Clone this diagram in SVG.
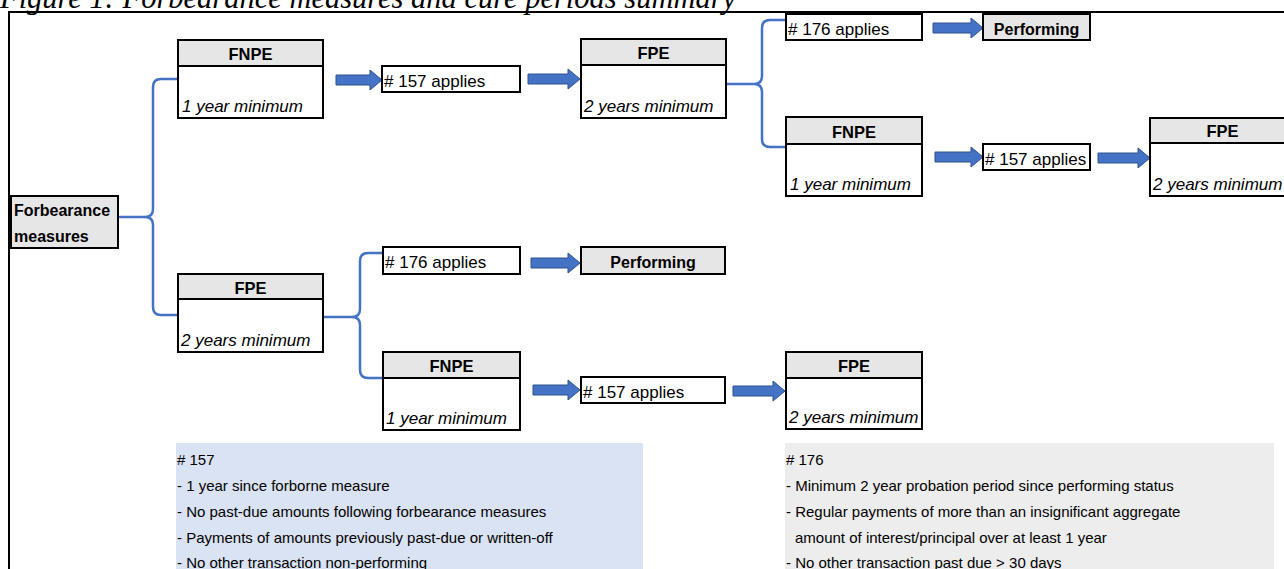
<svg xmlns="http://www.w3.org/2000/svg" width="1284" height="569" viewBox="0 0 1284 569">
  <style>
    .frame { fill: none; stroke: #000; stroke-width: 2; }
    .box { fill: #fff; stroke: #000; stroke-width: 2; }
    .head { fill: #e7e6e6; stroke: #000; stroke-width: 2; }
    .grey { fill: #e7e6e6; stroke: #000; stroke-width: 2; }
    .t { font-family: "Liberation Sans", Arial, sans-serif; font-size: 17px; fill: #000; }
    .b { font-family: "Liberation Sans", Arial, sans-serif; font-size: 16px; font-weight: bold; fill: #000; }
    .hd { font-family: "Liberation Sans", Arial, sans-serif; font-size: 16.5px; font-weight: bold; fill: #000; text-anchor: middle; }
    .it { font-family: "Liberation Sans", Arial, sans-serif; font-size: 17px; font-style: italic; fill: #000; }
    .note { font-family: "Liberation Sans", Arial, sans-serif; font-size: 15px; fill: #000; }
    .title { font-family: "Liberation Serif", "Times New Roman", serif; font-size: 30.5px; font-style: italic; fill: #000; }
    .brace { fill: none; stroke: #4472c4; stroke-width: 2.5; stroke-linecap: round; stroke-linejoin: round; }
    .arrow { fill: #4472c4; stroke: #2f528f; stroke-width: 1; }
  </style>

  <!-- caption, partly above the top edge -->
  <text class="title" x="0" y="7.5">Figure 1: Forbearance measures and cure periods summary</text>

  <!-- outer frame (left and top edges) -->
  <path class="frame" d="M9,569 V12 H1284"/>

  <!-- rule notes -->
  <g id="note-157">
    <rect x="176" y="443" width="467" height="130" fill="#dae3f3"/>
    <text class="note" x="177" y="464.5"># 157</text>
    <text class="note" x="177" y="491">- 1 year since forborne measure</text>
    <text class="note" x="177" y="517">- No past-due amounts following forbearance measures</text>
    <text class="note" x="177" y="543">- Payments of amounts previously past-due or written-off</text>
    <text class="note" x="177" y="567.5">- No other transaction non-performing</text>
  </g>
  <g id="note-176">
    <rect x="785" y="443" width="489" height="130" fill="#ededed"/>
    <text class="note" x="786" y="464.5"># 176</text>
    <text class="note" x="786" y="491">- Minimum 2 year probation period since performing status</text>
    <text class="note" x="786" y="517">- Regular payments of more than an insignificant aggregate</text>
    <text class="note" x="795" y="543">amount of interest/principal over at least 1 year</text>
    <text class="note" x="786" y="567.5">- No other transaction past due &gt; 30 days</text>
  </g>

  <!-- connectors: braces and block arrows -->
  <g id="connectors">
    <path class="brace" d="M120,217 H145 M177,79 H161 Q153,79 153,87 V209 Q153,217 145,217 Q153,217 153,225 V307 Q153,315 161,315 H177"/>
    <path class="brace" d="M726,84 H754 M786,20 H770 Q762,20 762,28 V76 Q762,84 754,84 Q762,84 762,92 V139 Q762,147 770,147 H786"/>
    <path class="brace" d="M324,317 H352 M383,253 H368 Q360,253 360,261 V309 Q360,317 352,317 Q360,317 360,325 V370 Q360,378 368,378 H383"/>

    <path class="arrow" d="M336,75 H370 V70 L382,80 L370,90 V85 H336 Z"/>
    <path class="arrow" d="M528,74 H568 V69 L580,79 L568,89 V84 H528 Z"/>
    <path class="arrow" d="M933,23 H971 V18 L983,28 L971,38 V33 H933 Z"/>
    <path class="arrow" d="M935,152 H971 V147 L983,157 L971,167 V162 H935 Z"/>
    <path class="arrow" d="M1098,153 H1138 V148 L1150,158 L1138,168 V163 H1098 Z"/>
    <path class="arrow" d="M531,258 H568 V253 L580,263 L568,273 V268 H531 Z"/>
    <path class="arrow" d="M533,385 H568 V380 L580,390 L568,400 V395 H533 Z"/>
    <path class="arrow" d="M733,386 H773 V381 L785,391 L773,401 V396 H733 Z"/>
  </g>

  <!-- states and conditions -->
  <g id="forbearance-measures">
    <rect class="grey" x="11" y="196" width="107" height="52"/>
    <text class="b" x="14" y="216">Forbearance</text>
    <text class="b" x="14" y="242">measures</text>
  </g>

  <g id="fnpe-1">
    <rect class="box" x="178" y="40" width="145" height="78"/>
    <rect class="head" x="178" y="40" width="145" height="26"/>
    <text class="hd" x="250.5" y="60">FNPE</text>
    <text class="it" x="182" y="111.5">1 year minimum</text>
  </g>
  <g id="applies-157-1">
    <rect class="box" x="382" y="66" width="138" height="26"/>
    <text class="t" x="384" y="86.5"># 157 applies</text>
  </g>
  <g id="fpe-1">
    <rect class="box" x="581" y="39" width="145" height="79"/>
    <rect class="head" x="581" y="39" width="145" height="26"/>
    <text class="hd" x="653.5" y="59">FPE</text>
    <text class="it" x="584" y="111.5">2 years minimum</text>
  </g>
  <g id="applies-176-1">
    <rect class="box" x="786" y="14" width="136" height="26"/>
    <text class="t" x="788" y="34.5"># 176 applies</text>
  </g>
  <g id="performing-1">
    <rect class="grey" x="983" y="14" width="107" height="26"/>
    <text class="b" x="1036.5" y="34.5" text-anchor="middle" font-size="17">Performing</text>
  </g>
  <g id="fnpe-2">
    <rect class="box" x="786" y="117" width="136" height="79"/>
    <rect class="head" x="786" y="117" width="136" height="27"/>
    <text class="hd" x="854" y="137.5">FNPE</text>
    <text class="it" x="790" y="189.5">1 year minimum</text>
  </g>
  <g id="applies-157-2">
    <rect class="box" x="983" y="144" width="107" height="26"/>
    <text class="t" x="985" y="164.5"># 157 applies</text>
  </g>
  <g id="fpe-2">
    <rect class="box" x="1150" y="118" width="145" height="78"/>
    <rect class="head" x="1150" y="118" width="145" height="25"/>
    <text class="hd" x="1222.5" y="137">FPE</text>
    <text class="it" x="1153" y="189.5">2 years minimum</text>
  </g>

  <g id="fpe-3">
    <rect class="box" x="178" y="274" width="145" height="78"/>
    <rect class="head" x="178" y="274" width="145" height="25"/>
    <text class="hd" x="250.5" y="293.5">FPE</text>
    <text class="it" x="181" y="345.5">2 years minimum</text>
  </g>
  <g id="applies-176-2">
    <rect class="box" x="383" y="247" width="137" height="27"/>
    <text class="t" x="385" y="268"># 176 applies</text>
  </g>
  <g id="performing-2">
    <rect class="grey" x="581" y="247" width="144" height="27"/>
    <text class="b" x="653" y="268" text-anchor="middle" font-size="17">Performing</text>
  </g>
  <g id="fnpe-3">
    <rect class="box" x="383" y="352" width="137" height="78"/>
    <rect class="head" x="383" y="352" width="137" height="26"/>
    <text class="hd" x="451.5" y="372">FNPE</text>
    <text class="it" x="386" y="423.5">1 year minimum</text>
  </g>
  <g id="applies-157-3">
    <rect class="box" x="581" y="377" width="144" height="26"/>
    <text class="t" x="583" y="397.5"># 157 applies</text>
  </g>
  <g id="fpe-4">
    <rect class="box" x="786" y="352" width="136" height="77"/>
    <rect class="head" x="786" y="352" width="136" height="26"/>
    <text class="hd" x="854" y="372">FPE</text>
    <text class="it" x="789" y="422.5">2 years minimum</text>
  </g>
</svg>
